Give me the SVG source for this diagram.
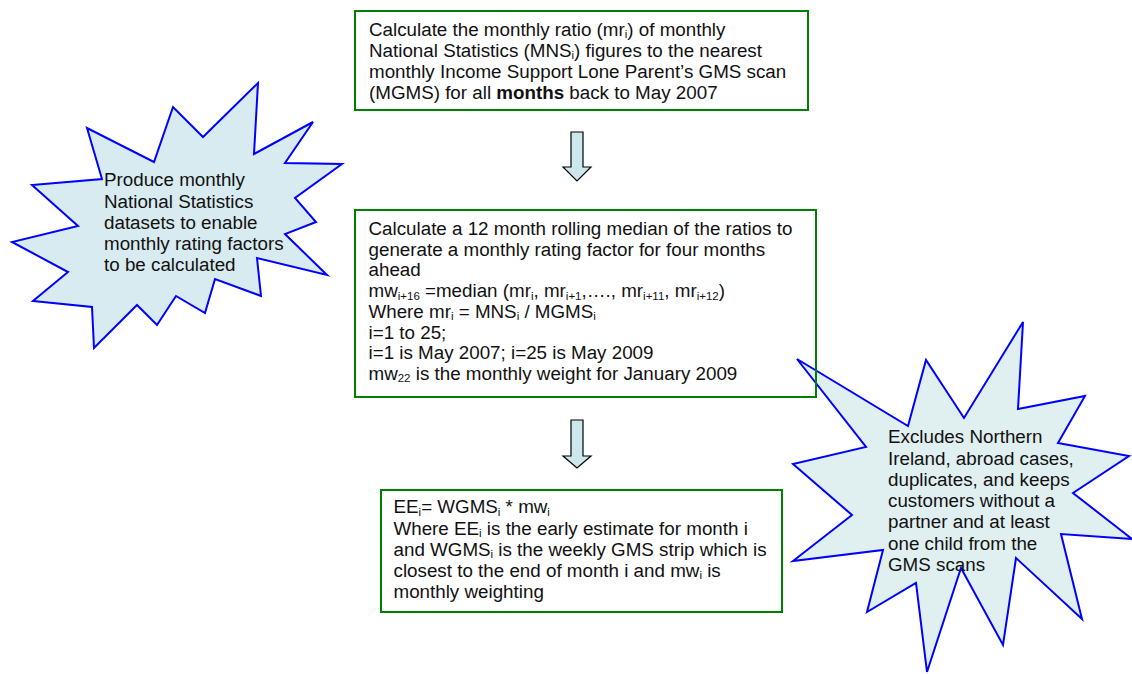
<svg xmlns="http://www.w3.org/2000/svg" width="1132" height="674" viewBox="0 0 1132 674">
<style>
.box{fill:none;stroke:#008000;stroke-width:2}
.star{stroke:#0000ff;stroke-width:2;stroke-linejoin:miter}
.t{font-family:"Liberation Sans",Arial,sans-serif;font-size:18.8px;fill:#111}
.s{font-size:11.5px}
.arrow{fill:#cde8ec;stroke:#000;stroke-width:1.2}
</style>
<rect width="1132" height="674" fill="#fff"/>
<g id="star-left">
<polygon class="star" fill="#d8ebf0" points="258,83 254,154 313,122 285,163 342,164 295,198 316,222 285,234 327,275 257,258 261,296 215,279 205,313 176,296 157,325 137,305 94,348 92,307 33,301 68,272 12,242 78,226 32,185 102,179 87,128 154,162 173,107 203,137"/>
<text class="t" x="104">
<tspan x="104" y="186">Produce monthly</tspan>
<tspan x="104" y="207.5">National Statistics</tspan>
<tspan x="104" y="228.5">datasets to enable</tspan>
<tspan x="104" y="249.5">monthly rating factors</tspan>
<tspan x="104" y="270.5">to be calculated</tspan>
</text>
</g>
<g id="star-right">
<polygon class="star" fill="#e0eff0" points="1023,322 1018,409 1085,396 1058,443 1129,456 1073,493 1132,539 1061,534 1082,619 1016,558 1003,645 961,568 927,672 916,583 867,612 883,550 793,561 852,515 793,464 866,447 797,359 908,426 926,360 964,418"/>
<text class="t">
<tspan x="888" y="443">Excludes Northern</tspan>
<tspan x="888" y="464.5">Ireland, abroad cases,</tspan>
<tspan x="888" y="485.8">duplicates, and keeps</tspan>
<tspan x="888" y="507">customers without a</tspan>
<tspan x="888" y="528.3">partner and at least</tspan>
<tspan x="888" y="549.6">one child from the</tspan>
<tspan x="888" y="571">GMS scans</tspan>
</text>
</g>
<g id="box-ratio">
<rect class="box" x="355" y="11" width="453" height="99"/>
<text class="t">
<tspan x="369" y="35.7">Calculate the monthly ratio (mr</tspan><tspan class="s" dy="2.5">i</tspan><tspan dy="-2.5">) of monthly</tspan>
<tspan x="369" y="56.9">National Statistics (MNS</tspan><tspan class="s" dy="2.5">i</tspan><tspan dy="-2.5">) figures to the nearest</tspan>
<tspan x="369" y="78.1">monthly Income Support Lone Parent’s GMS scan</tspan>
<tspan x="369" y="99.3">(MGMS) for all </tspan><tspan font-weight="bold">months</tspan><tspan> back to May 2007</tspan>
</text>
</g>
<g id="box-median">
<rect class="box" x="355" y="210" width="461" height="187"/>
<text class="t">
<tspan x="368.5" y="235">Calculate a 12 month rolling median of the ratios to</tspan>
<tspan x="368.5" y="255.7">generate a monthly rating factor for four months</tspan>
<tspan x="368.5" y="276.4">ahead</tspan>
<tspan x="368.5" y="297.1">mw</tspan><tspan class="s" dy="2.5">i+16</tspan><tspan dy="-2.5"> =median (mr</tspan><tspan class="s" dy="2.5">i</tspan><tspan dy="-2.5">, mr</tspan><tspan class="s" dy="2.5">i+1</tspan><tspan dy="-2.5">,…., mr</tspan><tspan class="s" dy="2.5">i+11</tspan><tspan dy="-2.5">, mr</tspan><tspan class="s" dy="2.5">i+12</tspan><tspan dy="-2.5">)</tspan>
<tspan x="368.5" y="317.8">Where mr</tspan><tspan class="s" dy="2.5">i</tspan><tspan dy="-2.5"> = MNS</tspan><tspan class="s" dy="2.5">i</tspan><tspan dy="-2.5"> / MGMS</tspan><tspan class="s" dy="2.5">i</tspan>
<tspan x="368.5" y="338.5">i=1 to 25;</tspan>
<tspan x="368.5" y="359.2">i=1 is May 2007; i=25 is May 2009</tspan>
<tspan x="368.5" y="379.9">mw</tspan><tspan class="s" dy="2.5">22</tspan><tspan dy="-2.5"> is the monthly weight for January 2009</tspan>
</text>
</g>
<g id="box-estimate">
<rect class="box" x="381" y="490" width="401" height="122"/>
<text class="t">
<tspan x="393.5" y="513.3">EE</tspan><tspan class="s" dy="2.5">i</tspan><tspan dy="-2.5">= WGMS</tspan><tspan class="s" dy="2.5">i</tspan><tspan dy="-2.5"> * mw</tspan><tspan class="s" dy="2.5">i</tspan>
<tspan x="393.5" y="534.5">Where EE</tspan><tspan class="s" dy="2.5">i</tspan><tspan dy="-2.5"> is the early estimate for month i</tspan>
<tspan x="393.5" y="555.7">and WGMS</tspan><tspan class="s" dy="2.5">i</tspan><tspan dy="-2.5"> is the weekly GMS strip which is</tspan>
<tspan x="393.5" y="576.8">closest to the end of month i and mw</tspan><tspan class="s" dy="2.5">i</tspan><tspan dy="-2.5"> is</tspan>
<tspan x="393.5" y="597.9">monthly weighting</tspan>
</text>
</g>
<g id="connectors">
<path class="arrow" d="M571,132 H583 V167 H591 L577,181 L563,167 H571 Z"/>
<path class="arrow" d="M571,420 H583 V456 H591 L577,468 L563,456 H571 Z"/>
</g>
</svg>
